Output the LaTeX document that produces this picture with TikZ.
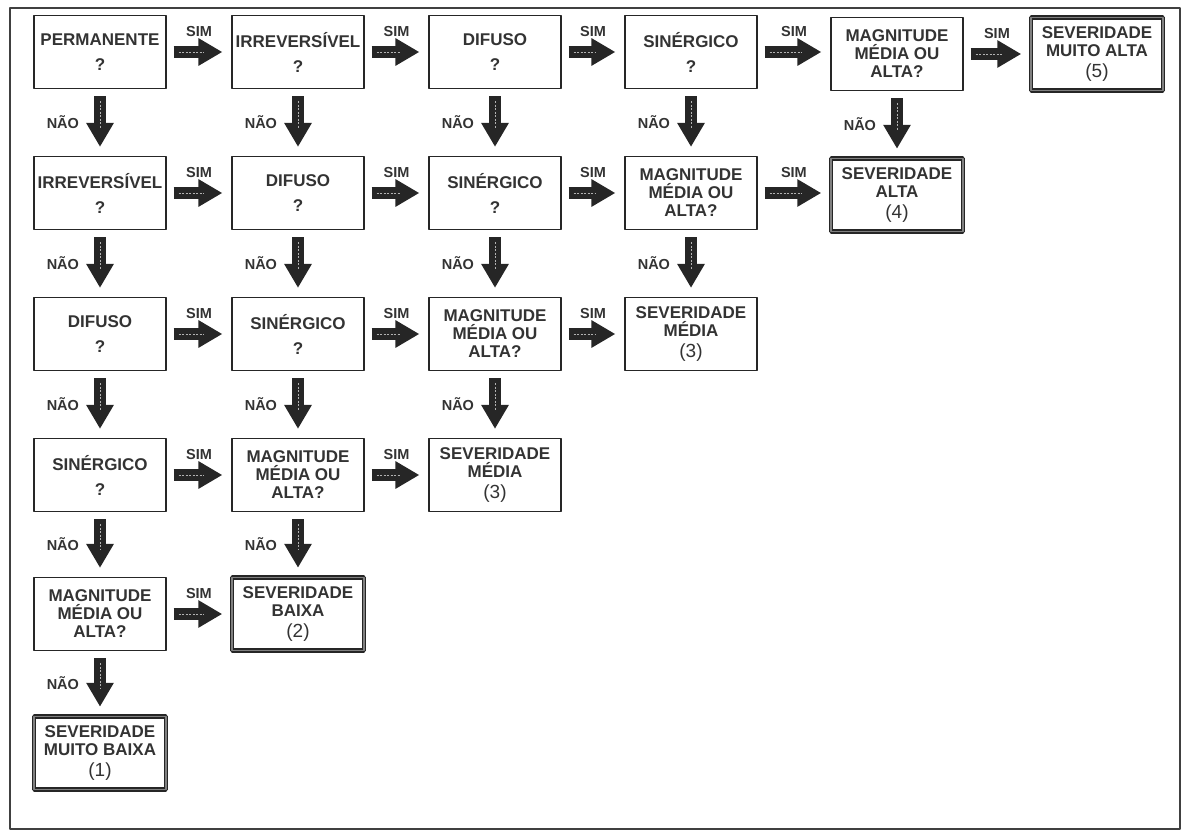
\documentclass[tikz,border=0pt]{standalone}
\usepackage{fontspec}
\setmainfont{Liberation Sans}
\usetikzlibrary{arrows.meta}

\begin{document}
\begin{tikzpicture}[line join=bevel,
  box/.style={draw=black!85,line width=1.2bp,minimum width=132bp,minimum height=73bp,inner sep=0pt,align=center,text=black!80,font=\bfseries\fontsize{17bp}{18bp}\selectfont},
  endbox/.style={box,line width=1.5bp,double=black!50,double distance=1.6bp},
  fat/.style={draw=black!85,line width=12bp,-{Triangle[length=24bp,width=26bp]},shorten <=7bp,shorten >=9bp,
    postaction={draw=white!70!black,line width=0.7bp,dash pattern=on 2bp off 1.5bp,-,shorten <=12bp,shorten >=28bp}},
  simlabel/.style={above=9bp,inner sep=0pt,text=black!80,font=\bfseries\fontsize{14.5bp}{15bp}\selectfont},
  naolabel/.style={left=15bp,inner sep=0pt,text=black!80,font=\bfseries\fontsize{14.5bp}{15bp}\selectfont},
]
\useasboundingbox (0bp,0bp) rectangle (1181bp,-831bp);
\draw [black!75,line width=1.3bp] (10bp,-8bp) rectangle (1180bp,-829bp);
%%
\node (node_11) at (100bp,-52bp) [box] {PERMANENTE\\[7bp]?};
  \node (node_12) at (298bp,-52bp) [box] {IRREVERSÍVEL\\[7bp]?};
  \node (node_13) at (495bp,-52bp) [box] {DIFUSO\\[7bp]?};
  \node (node_14) at (691bp,-52bp) [box] {SINÉRGICO\\[7bp]?};
  \node (node_15) at (897bp,-54bp) [box] {MAGNITUDE\\MÉDIA OU\\ALTA?};
  \node (node_16) at (1097bp,-54bp) [endbox] {SEVERIDADE\\MUITO ALTA\\[3bp]{\fontsize{19bp}{19bp}\mdseries\selectfont(5)}};
%
\node (node_21) at (100bp,-193bp) [box] {IRREVERSÍVEL\\[7bp]?};
  \node (node_22) at (298bp,-193bp) [box] {DIFUSO\\[7bp]?};
  \node (node_23) at (495bp,-193bp) [box] {SINÉRGICO\\[7bp]?};
  \node (node_24) at (691bp,-193bp) [box] {MAGNITUDE\\MÉDIA OU\\ALTA?};
  \node (node_25) at (897bp,-195bp) [endbox] {SEVERIDADE\\ALTA\\[3bp]{\fontsize{19bp}{19bp}\mdseries\selectfont(4)}};
%
\node (node_31) at (100bp,-334bp) [box] {DIFUSO\\[7bp]?};
  \node (node_32) at (298bp,-334bp) [box] {SINÉRGICO\\[7bp]?};
  \node (node_33) at (495bp,-334bp) [box] {MAGNITUDE\\MÉDIA OU\\ALTA?};
  \node (node_34) at (691bp,-334bp) [box] {SEVERIDADE\\MÉDIA\\[3bp]{\fontsize{19bp}{19bp}\mdseries\selectfont(3)}};
%
\node (node_41) at (100bp,-475bp) [box] {SINÉRGICO\\[7bp]?};
  \node (node_42) at (298bp,-475bp) [box] {MAGNITUDE\\MÉDIA OU\\ALTA?};
  \node (node_43) at (495bp,-475bp) [box] {SEVERIDADE\\MÉDIA\\[3bp]{\fontsize{19bp}{19bp}\mdseries\selectfont(3)}};
%
\node (node_51) at (100bp,-614bp) [box] {MAGNITUDE\\MÉDIA OU\\ALTA?};
  \node (node_52) at (298bp,-614bp) [endbox] {SEVERIDADE\\BAIXA\\[3bp]{\fontsize{19bp}{19bp}\mdseries\selectfont(2)}};
%
\node (node_61) at (100bp,-753bp) [endbox] {SEVERIDADE\\MUITO BAIXA\\[3bp]{\fontsize{19bp}{19bp}\mdseries\selectfont(1)}};
%% sim
\draw [fat] (node_11) -- node[midway,simlabel] {SIM} (node_12);
  \draw [fat] (node_12) -- node[midway,simlabel] {SIM} (node_13);
  \draw [fat] (node_13) -- node[midway,simlabel] {SIM} (node_14);
  \draw [fat] (node_14.east) -- node[midway,simlabel] {SIM} (node_15.west |- node_14.east);
  \draw [fat] (node_15) -- node[midway,simlabel] {SIM} (node_16);
  \draw [fat] (node_21) -- node[midway,simlabel] {SIM} (node_22);
  \draw [fat] (node_22) -- node[midway,simlabel] {SIM} (node_23);
  \draw [fat] (node_23) -- node[midway,simlabel] {SIM} (node_24);
  \draw [fat] (node_24.east) -- node[midway,simlabel] {SIM} (node_25.west |- node_24.east);
  \draw [fat] (node_31) -- node[midway,simlabel] {SIM} (node_32);
  \draw [fat] (node_32) -- node[midway,simlabel] {SIM} (node_33);
  \draw [fat] (node_33) -- node[midway,simlabel] {SIM} (node_34);
  \draw [fat] (node_41) -- node[midway,simlabel] {SIM} (node_42);
  \draw [fat] (node_42) -- node[midway,simlabel] {SIM} (node_43);
  \draw [fat] (node_51) -- node[midway,simlabel] {SIM} (node_52);
%% nao
\draw [fat] (node_11) -- node[midway,naolabel] {NÃO} (node_21);
  \draw [fat] (node_12) -- node[midway,naolabel] {NÃO} (node_22);
  \draw [fat] (node_13) -- node[midway,naolabel] {NÃO} (node_23);
  \draw [fat] (node_14) -- node[midway,naolabel] {NÃO} (node_24);
  \draw [fat] (node_15) -- node[midway,naolabel] {NÃO} (node_25);
  \draw [fat] (node_21) -- node[midway,naolabel] {NÃO} (node_31);
  \draw [fat] (node_22) -- node[midway,naolabel] {NÃO} (node_32);
  \draw [fat] (node_23) -- node[midway,naolabel] {NÃO} (node_33);
  \draw [fat] (node_24) -- node[midway,naolabel] {NÃO} (node_34);
  \draw [fat] (node_31) -- node[midway,naolabel] {NÃO} (node_41);
  \draw [fat] (node_32) -- node[midway,naolabel] {NÃO} (node_42);
  \draw [fat] (node_33) -- node[midway,naolabel] {NÃO} (node_43);
  \draw [fat] (node_41) -- node[midway,naolabel] {NÃO} (node_51);
  \draw [fat] (node_42) -- node[midway,naolabel] {NÃO} (node_52);
  \draw [fat] (node_51) -- node[midway,naolabel] {NÃO} (node_61);
%
\end{tikzpicture}
\end{document}
